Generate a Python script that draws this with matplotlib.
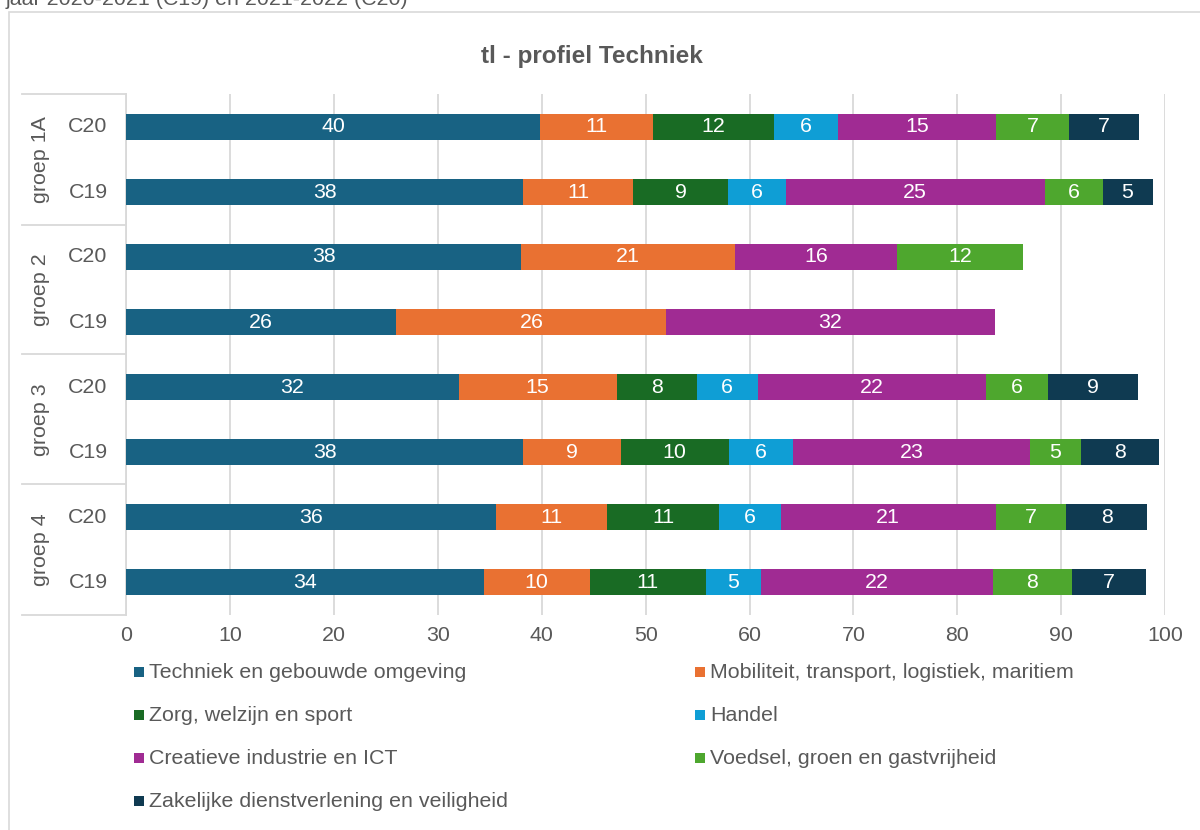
import matplotlib
matplotlib.use("Agg")
import matplotlib.pyplot as plt
from matplotlib.patches import Rectangle
from matplotlib.lines import Line2D
import numpy as np

plt.rcParams['font.family'] = ['Liberation Sans', 'DejaVu Sans']

# Rows from top to bottom
groups = ["groep 1A", "groep 2", "groep 3", "groep 4"]
cohorts = ["C20", "C19"]
row_labels = [c for g in groups for c in cohorts]

series = [
    "Techniek en gebouwde omgeving",
    "Mobiliteit, transport, logistiek, maritiem",
    "Zorg, welzijn en sport",
    "Handel",
    "Creatieve industrie en ICT",
    "Voedsel, groen en gastvrijheid",
    "Zakelijke dienstverlening en veiligheid",
]

techniek = [39.8, 38.2, 38.0, 26.0, 32.0, 38.2, 35.6, 34.4]
mobiliteit = [10.9, 10.6, 20.6, 26.0, 15.2, 9.4, 10.7, 10.2]
zorg = [11.7, 9.1, 0, 0, 7.7, 10.4, 10.8, 11.2]
handel = [6.1, 5.6, 0, 0, 5.9, 6.2, 5.9, 5.3]
creatief = [15.2, 24.9, 15.6, 31.6, 22.0, 22.8, 20.7, 22.3]
voedsel = [7.1, 5.6, 12.1, 0, 5.9, 4.9, 6.8, 7.6]
zakelijk = [6.7, 4.8, 0, 0, 8.7, 7.5, 7.8, 7.2]

values = [techniek, mobiliteit, zorg, handel, creatief, voedsel, zakelijk]
colors = ["#186283", "#E97132", "#196B24", "#0F9ED5", "#A02B93", "#4EA72E", "#0F3A51"]

x_ticks = list(range(0, 101, 10))

W, H = 1200, 830
fig = plt.figure(figsize=(W / 100, H / 100), dpi=100)

def fx(px):
    return px / W

def fy(py):
    return 1 - py / H

text_grey = "#595959"
line_grey = "#D9D9D9"
fs = 15.4

# Outer chart frame
fig.add_artist(Rectangle((fx(9), fy(900)), fx(1300), (900 - 12) / H,
                         transform=fig.transFigure, fill=False,
                         edgecolor="#D9D9D9", linewidth=1.2))

# Caption line above the frame
fig.text(fx(6), fy(5), "jaar 2020-2021 (C19) en 2021-2022 (C20)",
         fontsize=fs, color=text_grey, ha="left", va="baseline")

fig.text(fx(592), fy(57), "tl - profiel Techniek", fontsize=17.5,
         fontweight="bold", color=text_grey, ha="center", va="center")

plot_l, plot_r, plot_t, plot_b = 126.3, 1165, 94.5, 614.5
ax = fig.add_axes([fx(plot_l), fy(plot_b), fx(plot_r - plot_l), (plot_b - plot_t) / H])

n = len(row_labels)
y = np.arange(n)
left = np.zeros(n)
for vals, color in zip(values, colors):
    vals = np.array(vals, dtype=float)
    ax.barh(y, vals, left=left, height=0.4, color=color, edgecolor="none", zorder=3)
    for yi, (l, v) in enumerate(zip(left, vals)):
        if v > 0:
            ax.text(l + v / 2, yi, f"{v:.0f}", ha="center", va="center",
                    color="white", fontsize=fs, zorder=4)
    left += vals

ax.set_xlim(0, 100)
ax.set_ylim(n - 0.5, -0.5)
ax.set_xticks(x_ticks)
ax.set_xticklabels([str(t) for t in x_ticks], fontsize=fs, color=text_grey)
ax.tick_params(axis="x", length=0, pad=8)
ax.set_yticks([])
ax.grid(axis="x", color=line_grey, linewidth=1.3, zorder=0)
for s in ["top", "right", "bottom"]:
    ax.spines[s].set_visible(False)
ax.spines["left"].set_color(line_grey)
ax.spines["left"].set_linewidth(1.3)

# Two-level category axis on the left
row_h = (plot_b - plot_t) / n
for k in range(len(groups) + 1):
    yy = plot_t + k * 2 * row_h
    fig.add_artist(Line2D([fx(22), fx(plot_l)], [fy(yy), fy(yy)],
                          transform=fig.transFigure, color=line_grey, linewidth=1.3))
for i, lab in enumerate(row_labels):
    yy = plot_t + (i + 0.5) * row_h
    fig.text(fx(88), fy(yy), lab, fontsize=fs, color=text_grey,
             ha="center", va="center")
for g, name in enumerate(groups):
    yy = plot_t + (g * 2 + 1) * row_h
    fig.text(fx(40), fy(yy), name, fontsize=fs, color=text_grey,
             ha="center", va="center", rotation=90)

# Legend, filled row by row in two columns
leg_rows = [672, 715, 758, 801]
leg_cols = [134, 695]
for i, (name, color) in enumerate(zip(series, colors)):
    r, c = divmod(i, 2)
    x0 = leg_cols[c]
    y0 = leg_rows[r]
    fig.add_artist(Rectangle((fx(x0), fy(y0 + 5)), fx(10), 10 / H,
                             transform=fig.transFigure, color=color, linewidth=0))
    fig.text(fx(x0 + 15), fy(y0), name, fontsize=fs, color=text_grey,
             ha="left", va="center")

fig.savefig("out.png", dpi=100)
